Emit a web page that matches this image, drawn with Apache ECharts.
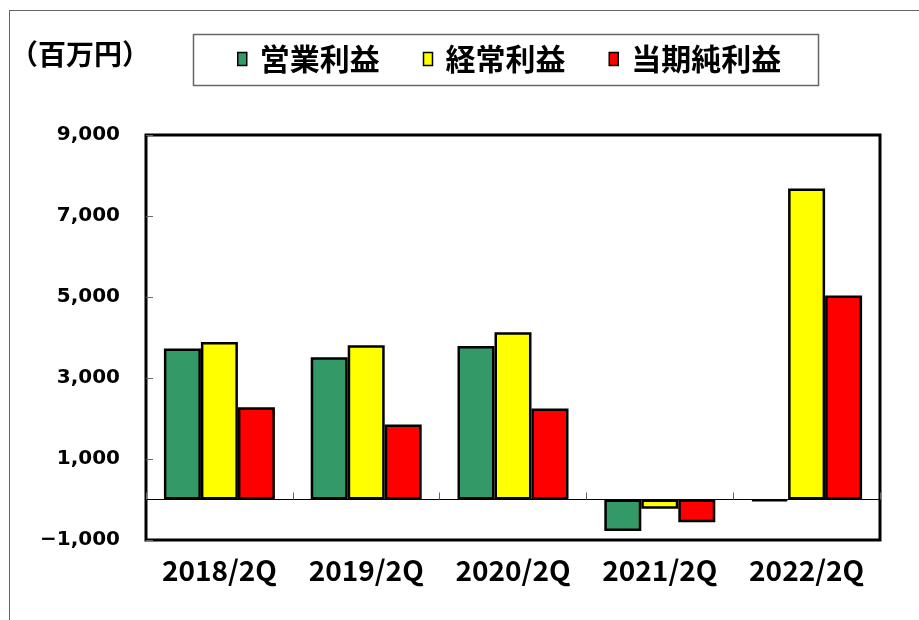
<!DOCTYPE html>
<html><head><meta charset="utf-8">
<script src="https://cdn.jsdelivr.net/npm/echarts@6/dist/echarts.min.js"></script>
<style>html,body{margin:0;padding:0;background:#fff}#c{width:919px;height:620px}</style>
</head><body><div id="c"></div>
<script>
const categories = ['2018/2Q', '2019/2Q', '2020/2Q', '2021/2Q', '2022/2Q'];
const seriesNames = ['営業利益', '経常利益', '当期純利益'];
const operatingProfit = [3730, 3510, 3790, -780, -40];
const ordinaryProfit = [3890, 3810, 4130, -230, 7680];
const netProfit = [2280, 1850, 2250, -560, 5040];
const unitLabel = '（百万円）';
const yMin = -1000, yMax = 9000, yStep = 2000;

const colors = ['#339966', '#FFFF00', '#FF0000'];
const values = [operatingProfit, ordinaryProfit, netProfit];

const chart = echarts.init(document.getElementById('c'), null, {renderer: 'canvas'});
chart.setOption({
  animation: false,
  backgroundColor: '#fff',
  graphic: [
    {type: 'line', shape: {x1: 9.5, y1: 10, x2: 9.5, y2: 620}, style: {stroke: '#666', lineWidth: 1}, silent: true},
    {type: 'line', shape: {x1: 9, y1: 10.5, x2: 919, y2: 10.5}, style: {stroke: '#666', lineWidth: 1}, silent: true},
    {type: 'rect', shape: {x: 193.5, y: 34.5, width: 625, height: 51}, style: {fill: 'none', stroke: '#666', lineWidth: 1.5}, silent: true},
    {type: 'text', left: 10, top: 40, style: {text: unitLabel, font: 'bold 28px "Noto Sans CJK JP"', fill: '#000'}, silent: true}
  ],
  legend: {
    data: seriesNames,
    left: 237, top: 44, padding: 0,
    itemWidth: 9, itemHeight: 13, itemGap: 43,
    icon: 'rect',
    itemStyle: {borderColor: '#000', borderWidth: 1.5},
    textStyle: {fontSize: 30, fontWeight: 'bold', fontFamily: '"Noto Sans CJK JP"', color: '#000', padding: [0, 0, 0, 8]}
  },
  grid: {left: 146, right: 39, top: 135, bottom: 80, show: true, borderColor: '#000', borderWidth: 3, containLabel: false},
  xAxis: [
    {
      type: 'category', data: categories, position: 'bottom',
      axisLine: {show: false, onZero: false}, axisTick: {show: false},
      axisLabel: {interval: 0, hideOverlap: false, margin: 16, fontSize: 28, fontWeight: 'bold', fontFamily: '"Noto Sans CJK JP"', color: '#000'}
    },
    {
      type: 'category', data: categories, position: 'bottom',
      axisLine: {show: true, onZero: true, lineStyle: {color: '#000', width: 1}},
      axisTick: {show: true, inside: true, interval: 0, length: 7, lineStyle: {color: '#666', width: 1}},
      axisLabel: {show: false}
    }
  ],
  yAxis: {
    type: 'value', min: yMin, max: yMax, interval: yStep,
    axisLine: {show: false}, splitLine: {show: false},
    axisTick: {show: true, inside: true, length: 7, lineStyle: {color: '#666', width: 1}},
    axisLabel: {
      margin: 26, fontSize: 20, fontWeight: 'bold', fontFamily: '"DejaVu Sans"', color: '#000',
      formatter: v => (v < 0 ? '\u2212' : '') + Math.abs(v).toLocaleString('en-US')
    }
  },
  series: seriesNames.map((name, i) => ({
    name, type: 'bar', data: values[i], xAxisIndex: 0,
    barWidth: 37, barGap: '0%',
    itemStyle: {color: colors[i], borderColor: '#000', borderWidth: 2.5}
  }))
});
</script></body></html>
